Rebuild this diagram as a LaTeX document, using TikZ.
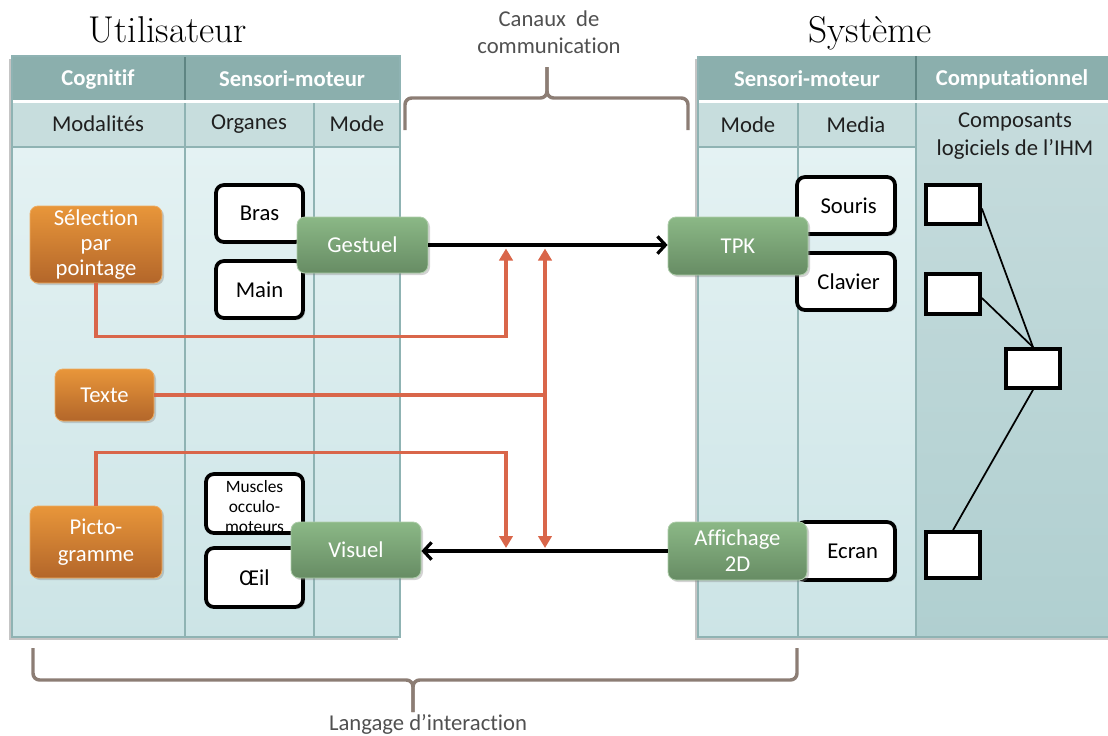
\documentclass[tikz,border=0pt]{standalone}
\usepackage{fontspec}
\newfontfamily\carl[Ligatures=NoCommon]{Carlito}
\usetikzlibrary{shadows,arrows.meta,fit}
\definecolor{orgT}{HTML}{E8963A}
\definecolor{orgB}{HTML}{B3662A}
\definecolor{grnT}{HTML}{8BB886}
\definecolor{grnB}{HTML}{678C64}
\definecolor{hdrA}{HTML}{8BAFAD}
\definecolor{hdrB}{HTML}{C7DDDD}
\definecolor{bodyT}{HTML}{E4F2F3}
\definecolor{bodyB}{HTML}{CCE4E6}
\definecolor{compT}{HTML}{C6DCDD}
\definecolor{compB}{HTML}{B0CFD0}
\definecolor{divc}{HTML}{8FB3B3}
\definecolor{divd}{HTML}{5F8583}
\definecolor{redc}{HTML}{D9664A}
\definecolor{bracec}{HTML}{8C7D74}
\definecolor{lblc}{HTML}{505050}
\tikzset{
  boxshadow/.style={drop shadow={opacity=0.35,shadow xshift=1.5pt,shadow yshift=-1.5pt}},
  obox/.style={rounded corners=6pt, top color=orgT, bottom color=orgB, draw=orgT!80!white, line width=0.6pt,
    text=white, align=center, inner sep=0pt, boxshadow},
  gbox/.style={rounded corners=6pt, top color=grnT, bottom color=grnB, draw=grnT!70!white, line width=0.6pt,
    text=white, align=center, inner sep=0pt, boxshadow},
  wbox/.style={rounded corners=6pt, fill=white, draw=black, line width=2.8pt, align=center, inner sep=0pt, boxshadow},
  sqbox/.style={fill=white, draw=black, line width=2.8pt, inner sep=0pt},
  redl/.style={draw=redc, line width=2.6pt},
  redarr/.style={redl, -{Triangle[length=9pt,width=10pt]}},
  blkarr/.style={draw=black, line width=2.4pt, -{Straight Barb[length=6pt,width=13pt]}},
  hdrtxt/.style={text=white, font=\carl\bfseries\fontsize{17}{20}\selectfont},
  subtxt/.style={text=black!88, align=center},
  bracel/.style={draw=bracec, line width=2.6pt, rounded corners=5pt},
  lbl/.style={text=lblc, align=center, font=\carl\fontsize{17}{20.5}\selectfont},
  titl/.style={font=\rmfamily\fontsize{28}{32}\selectfont, anchor=base},
  sep/.style={draw=divc, line width=0.8pt}
}
\begin{document}
\begin{tikzpicture}[x=0.75pt,y=-0.75pt, font=\carl\fontsize{17}{20}\selectfont]
\useasboundingbox (0,0) rectangle (1108,736);

% ---------- left panel ----------
\fill[black!45, opacity=0.5] (9,59) rectangle (398,640);
\shade[top color=bodyT, bottom color=bodyB] (12,147) rectangle (400,637);
\fill[white] (12,100) rectangle (400,103);
\fill[hdrB] (12,103) rectangle (400,147);
\fill[hdrA] (12,56) rectangle (400,100);
\draw[sep] (12,147) -- (400,147);
\draw[sep] (185,103) -- (185,637);
\draw[sep] (314,103) -- (314,637);
\draw[divd, line width=0.8pt] (185,56) -- (185,100);
\draw[sep] (12,56) rectangle (400,637);

% ---------- right panel ----------
\fill[black!45, opacity=0.5] (695,59) rectangle (1108,640);
\shade[top color=bodyT, bottom color=bodyB] (698,147) rectangle (916,637);
\shade[top color=compT, bottom color=compB] (916,103) rectangle (1108,637);
\fill[white] (698,100) rectangle (1108,103);
\fill[hdrB] (698,103) rectangle (916,147);
\fill[hdrA] (698,56) rectangle (1108,100);
\draw[sep] (698,147) -- (916,147);
\draw[sep] (798,103) -- (798,637);
\draw[sep] (916,103) -- (916,637);
\draw[divd, line width=0.8pt] (916,56) -- (916,100);
\draw[sep] (698,56) -- (698,637) -- (1108,637);

% ---------- headers ----------
\node[hdrtxt] (hcog) at (98,79) {Cognitif};
\node[hdrtxt] (hsm1) at (292,79) {Sensori-moteur};
\node[hdrtxt] (hsm2) at (807,79) {Sensori-moteur};
\node[hdrtxt] (hcomp) at (1012,79) {Computationnel};
\node[subtxt] (hmod) at (98,124) {Modalités};
\node[subtxt] (horg) at (249,124) {Organes};
\node[subtxt] (hmode1) at (357,124) {Mode};
\node[subtxt] (hmode2) at (748,125) {Mode};
\node[subtxt] (hmedia) at (856,125) {Media};
\node[subtxt, font=\carl\fontsize{17}{20.5}\selectfont] (hcompo) at (1015,136) {Composants\\logiciels de l’IHM};

% ---------- titles ----------
\node[titl] (tutil) at (168,42) {Utilisateur};
\node[titl] (tsys) at (870,42) {Système};

% ---------- braces ----------
\draw[bracel] (405,130) -- (405,98) -- (547,98) -- (547,67);
\draw[bracel] (688,130) -- (688,98) -- (547,98) -- (547,67);
\draw[bracel] (33,648) -- (33,680) -- (413,680) -- (413,712);
\draw[bracel] (797,648) -- (797,680) -- (413,680) -- (413,712);
\node[lbl] (canaux) at (549,32) {Canaux~~de\\communication};
\node[lbl] (lang) at (428,724) {Langage d’interaction};

% ---------- white boxes ----------
\node[wbox, fit={(216,185) (303,242)}] (bras) {};
\node at (bras.center) {Bras};
\node[wbox, fit={(216,261) (303,318)}] (main) {};
\node at (main.center) {Main};
\node[wbox, fit={(206,474) (303,533)}] (musc) {};
\node[align=center, font=\carl\fontsize{13}{15}\selectfont] at ([yshift=-2pt]musc.center) {Muscles\\occulo-\\moteurs};
\node[wbox, fit={(206,548) (303,607)}] (oeil) {};
\node at (oeil.center) {Œil};
\node[wbox, fit={(797,177) (895,234)}] (souris) {};
\node at ([xshift=2pt]souris.center) {Souris};
\node[wbox, fit={(797,253) (895,310)}] (clavier) {};
\node at ([xshift=2pt]clavier.center) {Clavier};
\node[wbox, fit={(797,522) (895,580)}] (ecran) {};
\node at ([xshift=5pt]ecran.center) {Ecran};

% ---------- orange boxes ----------
\node[obox, fit={(30,206) (162,283)}] (sel) {};
\node[text=white, align=center, font=\carl\fontsize{17}{19}\selectfont] at (sel.center) {Sélection\\par\\pointage};
\node[obox, fit={(55,369) (154,421)}] (texte) {};
\node[text=white] at (texte.center) {Texte};
\node[obox, fit={(30,506) (162,578)}] (picto) {};
\node[text=white, align=center, font=\carl\fontsize{17}{20}\selectfont] at (picto.center) {Picto-\\gramme};

% ---------- green boxes ----------
\node[gbox, fit={(297,217) (428,273)}] (gest) {};
\node[text=white] at (gest.center) {Gestuel};
\node[gbox, fit={(291,522) (421,578)}] (vis) {};
\node[text=white] at (vis.center) {Visuel};
\node[gbox, fit={(668,217) (808,275)}] (tpk) {};
\node[text=white] at (tpk.center) {TPK};
\node[gbox, fit={(668,522) (807,580)}] (aff) {};
\node[text=white, align=center, font=\carl\fontsize{17}{19.5}\selectfont] at (aff.center) {Affichage\\2D};

% ---------- black arrows ----------
\draw[blkarr] (gest.east) -- (gest.east -| tpk.west);
\draw[blkarr] (aff.west) -- (aff.west -| vis.east);

% ---------- red connectors ----------
\coordinate (ta) at (506,248.5);
\coordinate (tb) at (545,248.5);
\coordinate (ba) at (506,548);
\coordinate (bb) at (545,548);
\draw[redarr] (sel.south) -- ++(0,53) -| (ta);
\draw[redarr] (texte.east) -| (tb);
\draw[redarr] (texte.east -| tb) -- (bb);
\draw[redarr] (picto.north) -- ++(0,-53) -| (ba);

% ---------- software components ----------
\node[sqbox, fit={(926,185) (980,224)}] (s1) {};
\node[sqbox, fit={(926,274) (980,314)}] (s2) {};
\node[sqbox, fit={(1006,349) (1060,388)}] (s3) {};
\node[sqbox, fit={(926,532) (980,578)}] (s4) {};
\draw[line width=1.3pt] ([yshift=-3pt]s1.east) -- (s3.north);
\draw[line width=1.3pt] ([yshift=-3pt]s2.east) -- (s3.north);
\draw[line width=1.3pt] (s3.south) -- (s4.north);
\end{tikzpicture}
\end{document}
